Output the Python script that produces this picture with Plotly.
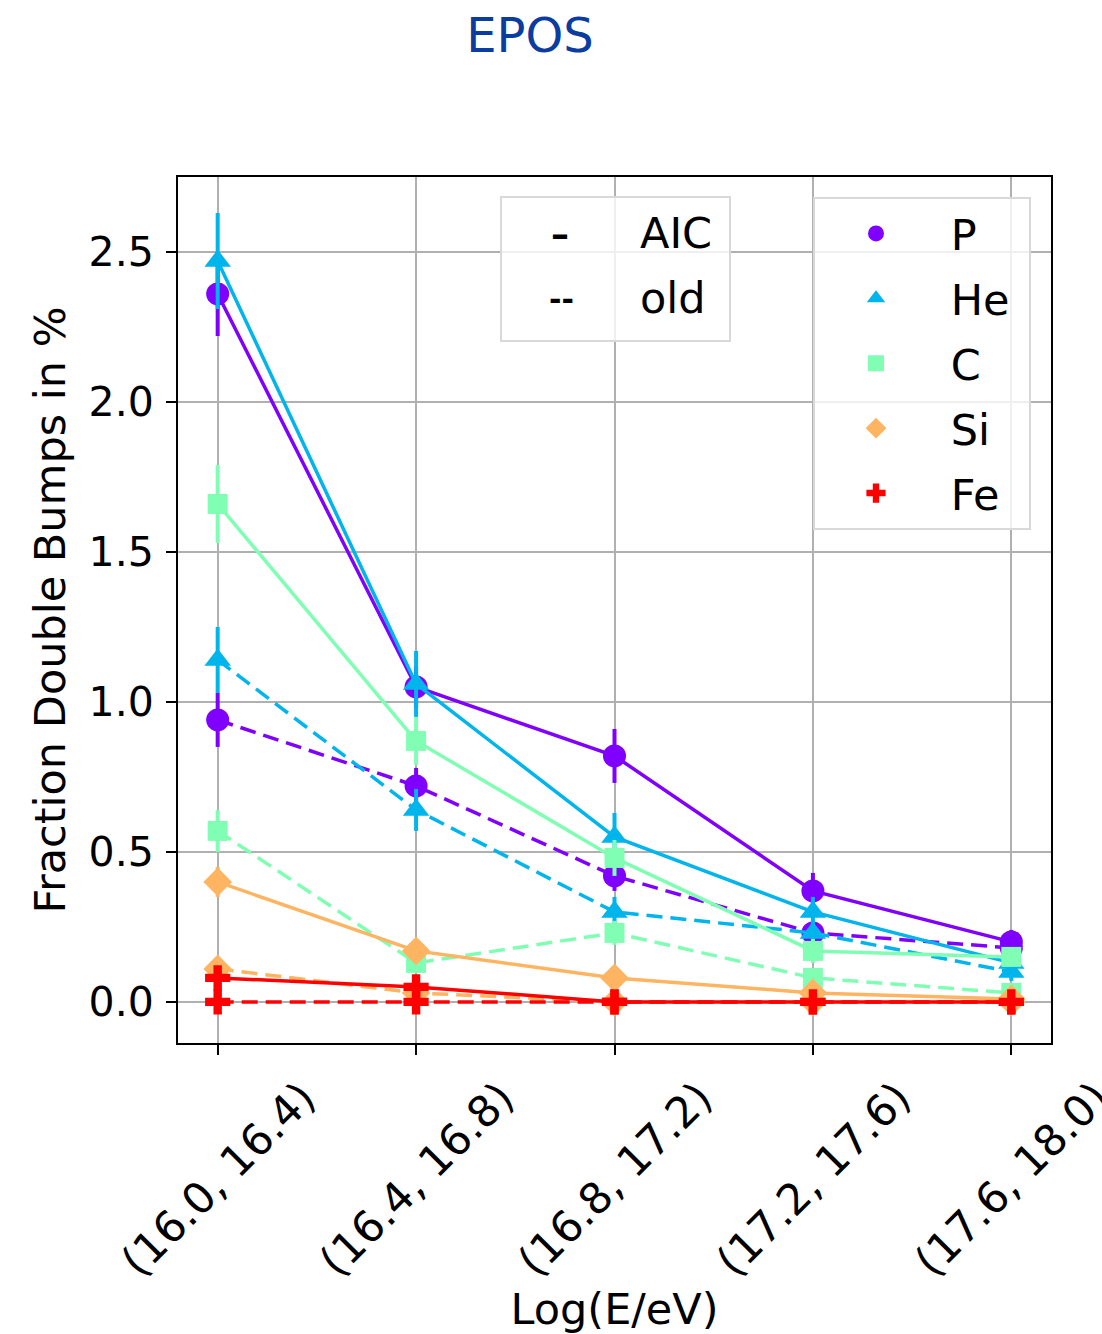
import plotly.graph_objects as go

# ---------------- data ----------------
categories = ["(16.0, 16.4)", "(16.4, 16.8)", "(16.8, 17.2)", "(17.2, 17.6)", "(17.6, 18.0)"]
species = ["P", "He", "C", "Si", "Fe"]

p_aic = [2.36, 1.05, 0.82, 0.37, 0.20]
p_aic_err = [0.14, 0.07, 0.09, 0.06, 0.04]
he_aic = [2.47, 1.06, 0.55, 0.30, 0.13]
he_aic_err = [0.16, 0.11, 0.08, 0.05, 0.04]
c_aic = [1.66, 0.87, 0.48, 0.17, 0.15]
c_aic_err = [0.13, 0.08, 0.06, 0.04, 0.03]
si_aic = [0.40, 0.17, 0.08, 0.03, 0.01]
si_aic_err = [0.05, 0.03, 0.02, 0.01, 0.01]
fe_aic = [0.08, 0.05, 0.0, 0.0, 0.0]
fe_aic_err = [0.03, 0.02, 0.0, 0.0, 0.0]

p_old = [0.94, 0.72, 0.42, 0.23, 0.18]
p_old_err = [0.09, 0.06, 0.05, 0.04, 0.03]
he_old = [1.14, 0.64, 0.30, 0.23, 0.10]
he_old_err = [0.11, 0.07, 0.05, 0.04, 0.03]
c_old = [0.57, 0.13, 0.23, 0.08, 0.03]
c_old_err = [0.07, 0.03, 0.04, 0.02, 0.01]
si_old = [0.11, 0.03, 0.0, 0.0, 0.0]
si_old_err = [0.03, 0.01, 0.0, 0.0, 0.0]
fe_old = [0.0, 0.0, 0.0, 0.0, 0.0]
fe_old_err = [0.02, 0.02, 0.0, 0.0, 0.0]

aic_values = [p_aic, he_aic, c_aic, si_aic, fe_aic]
aic_errors = [p_aic_err, he_aic_err, c_aic_err, si_aic_err, fe_aic_err]
old_values = [p_old, he_old, c_old, si_old, fe_old]
old_errors = [p_old_err, he_old_err, c_old_err, si_old_err, fe_old_err]

colors = ["#8000ff", "#00b4ec", "#80ffb4", "#ffb462", "#ff0000"]
symbols = ["circle", "triangle-up", "square", "diamond", "cross"]
msizes = [23, 23, 20, 22, 21]

xpos = list(range(len(categories)))

FONT = "DejaVu Sans"
FS = 43
W, H = 1102, 1334
L, R, T, B = 178, 1051, 177, 1043  # plot area pixels

def px(xp):
    return (xp - L) / (R - L)

def py(yp):
    return (B - yp) / (B - T)

fig = go.Figure()

for i, sp in enumerate(species):
    fig.add_trace(go.Scatter(
        x=xpos, y=old_values[i], mode="lines+markers",
        line=dict(color=colors[i], width=3.5, dash="16px,8px"),
        marker=dict(color=colors[i], symbol=symbols[i], size=msizes[i], line=dict(width=0)),
        error_y=dict(type="data", array=old_errors[i], color=colors[i], thickness=4, width=0),
        showlegend=False, name=sp + " old"))

for i, sp in enumerate(species):
    fig.add_trace(go.Scatter(
        x=xpos, y=aic_values[i], mode="lines+markers",
        line=dict(color=colors[i], width=3.5),
        marker=dict(color=colors[i], symbol=symbols[i], size=msizes[i], line=dict(width=0)),
        error_y=dict(type="data", array=aic_errors[i], color=colors[i], thickness=4, width=0),
        showlegend=False, name=sp + " AIC"))

# legend entries (markers only)
for i, sp in enumerate(species):
    fig.add_trace(go.Scatter(
        x=[None], y=[None], mode="markers",
        marker=dict(color=colors[i], symbol=symbols[i], size=16, line=dict(width=0)),
        name="\u00a0" + sp + "\u00a0", legendgroup=sp, showlegend=True))

shapes = [dict(type="rect", xref="paper", yref="paper",
               x0=px(501), x1=px(730), y0=py(341), y1=py(197),
               line=dict(color="#d9d9d9", width=2), fillcolor="rgba(255,255,255,0.8)", layer="above")]

annotations = [
    dict(text="<b>–</b>", x=px(560), y=py(234), xref="paper", yref="paper", showarrow=False,
         font=dict(family=FONT, size=36, color="black"), xanchor="center", yanchor="middle"),
    dict(text="AIC", x=px(638), y=py(233), xref="paper", yref="paper", showarrow=False,
         font=dict(family=FONT, size=FS, color="black"), xanchor="left", yanchor="middle"),
    dict(text="<b>--</b>", x=px(561), y=py(299), xref="paper", yref="paper", showarrow=False,
         font=dict(family=FONT, size=30, color="black"), xanchor="center", yanchor="middle"),
    dict(text="old", x=px(638), y=py(298), xref="paper", yref="paper", showarrow=False,
         font=dict(family=FONT, size=FS, color="black"), xanchor="left", yanchor="middle"),
]

fig.update_layout(
    width=W, height=H,
    margin=dict(l=L, r=W - R, t=T, b=H - B, autoexpand=False),
    paper_bgcolor="white", plot_bgcolor="white",
    font=dict(family=FONT, size=FS, color="black"),
    title=dict(text="EPOS", x=530 / W, xanchor="center", y=1 - 35 / H, yanchor="middle",
               xref="container", yref="container",
               font=dict(family=FONT, size=48, color="#0b3c9f")),
    shapes=shapes,
    annotations=annotations,
    legend=dict(x=px(813), y=py(197), xanchor="left", yanchor="top",
                bgcolor="rgba(255,255,255,0.8)", bordercolor="#d9d9d9", borderwidth=2,
                font=dict(family=FONT, size=FS, color="black"),
                tracegroupgap=6, itemwidth=112),
)

fig.update_xaxes(
    range=[-0.2, 4.2], tickmode="array", tickvals=xpos, ticktext=categories,
    tickangle=-45, ticklabelshift=85, ticklabeloverflow="allow",
    showgrid=True, gridcolor="#b0b0b0", gridwidth=2,
    showline=True, linecolor="black", linewidth=2, mirror=True,
    ticks="outside", ticklen=10, tickwidth=2, tickcolor="black",
    zeroline=False,
    title=dict(text="Log(E/eV)", font=dict(family=FONT, size=FS), standoff=8),
    tickfont=dict(family=FONT, size=FS),
)

fig.update_yaxes(
    range=[-0.137, 2.75], tickvals=[0, 0.5, 1.0, 1.5, 2.0, 2.5],
    ticktext=["0.0", "0.5", "1.0", "1.5", "2.0", "2.5"],
    showgrid=True, gridcolor="#b0b0b0", gridwidth=2,
    showline=True, linecolor="black", linewidth=2, mirror=True,
    ticks="outside", ticklen=10, tickwidth=2, tickcolor="black",
    zeroline=False, ticklabelstandoff=4,
    title=dict(text="Fraction Double Bumps in %", font=dict(family=FONT, size=FS), standoff=10),
    tickfont=dict(family=FONT, size=41),
)

fig.write_html("out.html")
